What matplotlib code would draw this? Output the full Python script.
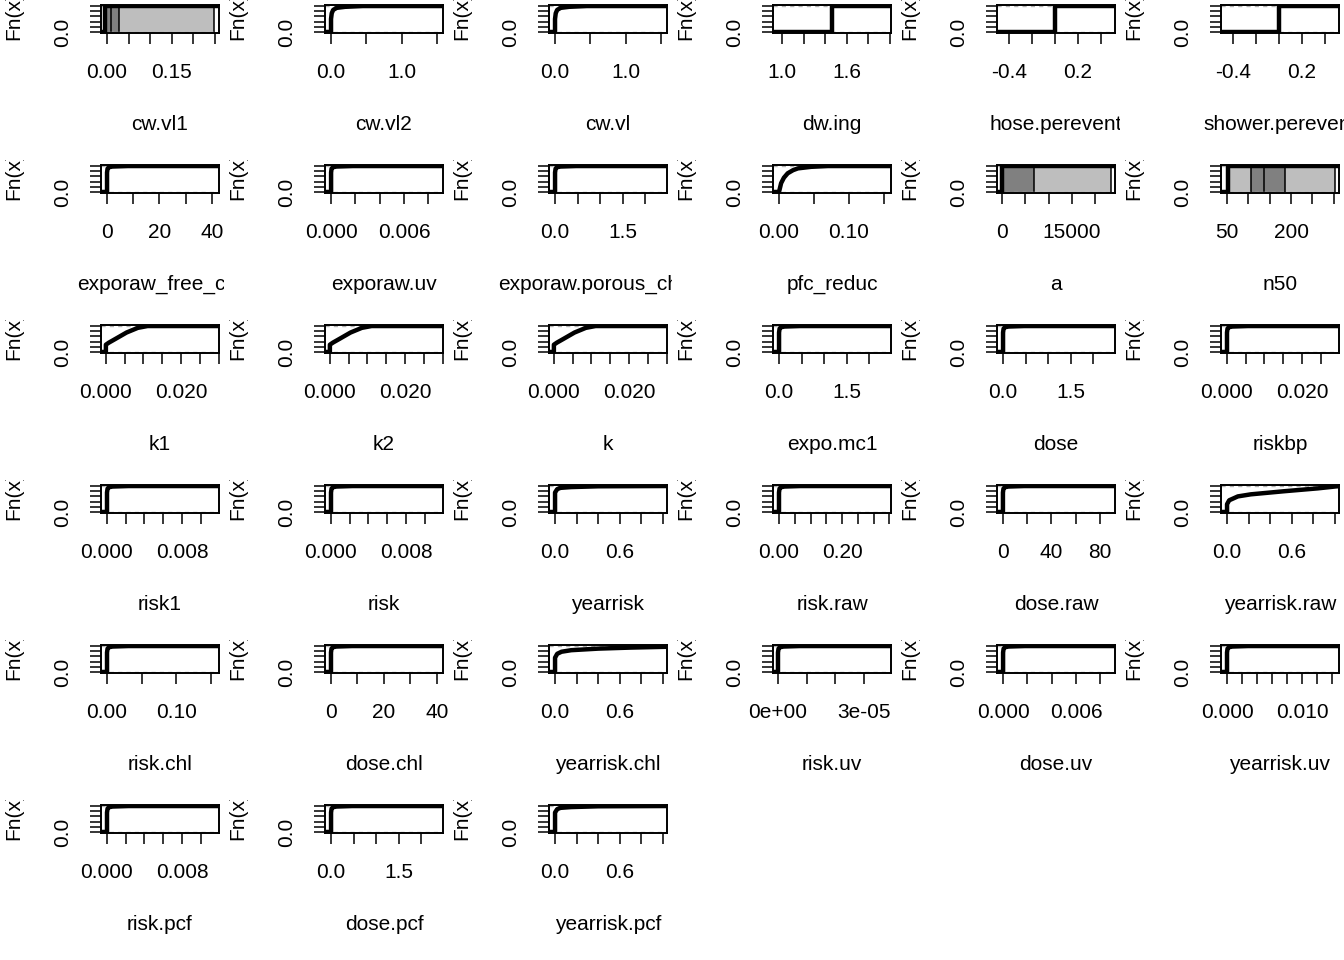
import matplotlib
matplotlib.use("Agg")
import matplotlib.pyplot as plt
from matplotlib.transforms import Bbox, TransformedBbox, blended_transform_factory

plt.rcParams['font.family'] = ['Liberation Sans', 'DejaVu Sans']

# node names, in plotting order (6 per row)
panel_names = ["cw.vl1", "cw.vl2", "cw.vl", "dw.ing", "hose.perevent", "shower.perevent",
               "exporaw_free_chl", "exporaw.uv", "exporaw.porous_chl.pcf", "pfc_reduc", "a", "n50",
               "k1", "k2", "k", "expo.mc1", "dose", "riskbp",
               "risk1", "risk", "yearrisk", "risk.raw", "dose.raw", "yearrisk.raw",
               "risk.chl", "dose.chl", "yearrisk.chl", "risk.uv", "dose.uv", "yearrisk.uv",
               "risk.pcf", "dose.pcf", "yearrisk.pcf"]

x_limits = [(-0.0139, 0.26), (-0.085, 1.58), (-0.085, 1.58), (0.917, 2.01), (-0.504, 0.52), (-0.504, 0.52),
            (-2.3, 42.7), (-0.0005, 0.0092), (-0.134, 2.48), (-0.0086, 0.16), (-1070, 24200), (36, 312),
            (-0.0013, 0.0301), (-0.0013, 0.0301), (-0.0013, 0.0301), (-0.134, 2.48), (-0.134, 2.48), (-0.0016, 0.0299),
            (-0.00064, 0.01195), (-0.00064, 0.01195), (-0.056, 1.037), (-0.019, 0.355), (-4.9, 92.4), (-0.056, 1.037),
            (-0.0087, 0.162), (-2.26, 42.3), (-0.056, 1.037), (-1.74e-6, 3.94e-5), (-0.0005, 0.0092), (-0.0008, 0.0149),
            (-0.00064, 0.01195), (-0.134, 2.48), (-0.056, 1.037)]

x_ticks = [[0, 0.05, 0.10, 0.15, 0.20, 0.25], [0, 0.5, 1.0, 1.5], [0, 0.5, 1.0, 1.5],
           [1.0, 1.2, 1.4, 1.6, 1.8, 2.0], [-0.4, -0.2, 0, 0.2, 0.4], [-0.4, -0.2, 0, 0.2, 0.4],
           [0, 10, 20, 30, 40], [0, 0.002, 0.004, 0.006, 0.008], [0, 0.5, 1.0, 1.5, 2.0],
           [0, 0.05, 0.10, 0.15], [0, 5000, 10000, 15000, 20000], [50, 100, 150, 200, 250, 300],
           [0, 0.005, 0.010, 0.015, 0.020, 0.025, 0.030], [0, 0.005, 0.010, 0.015, 0.020, 0.025, 0.030],
           [0, 0.005, 0.010, 0.015, 0.020, 0.025, 0.030], [0, 0.5, 1.0, 1.5, 2.0], [0, 0.5, 1.0, 1.5, 2.0],
           [0, 0.005, 0.010, 0.015, 0.020, 0.025],
           [0, 0.002, 0.004, 0.006, 0.008, 0.010], [0, 0.002, 0.004, 0.006, 0.008, 0.010],
           [0, 0.2, 0.4, 0.6, 0.8, 1.0], [0, 0.05, 0.10, 0.15, 0.20, 0.25, 0.30, 0.35],
           [0, 20, 40, 60, 80], [0, 0.2, 0.4, 0.6, 0.8, 1.0],
           [0, 0.05, 0.10, 0.15], [0, 10, 20, 30, 40], [0, 0.2, 0.4, 0.6, 0.8, 1.0],
           [0, 1e-5, 2e-5, 3e-5], [0, 0.002, 0.004, 0.006, 0.008],
           [0, 0.002, 0.004, 0.006, 0.008, 0.010, 0.012, 0.014],
           [0, 0.002, 0.004, 0.006, 0.008, 0.010], [0, 0.5, 1.0, 1.5, 2.0], [0, 0.2, 0.4, 0.6, 0.8, 1.0]]

# labels that survive R's overlap check, '' where R dropped them
x_tick_labels = [["0.00", "", "", "0.15", "", ""], ["0.0", "", "1.0", ""], ["0.0", "", "1.0", ""],
                 ["1.0", "", "", "1.6", "", ""], ["-0.4", "", "", "0.2", ""], ["-0.4", "", "", "0.2", ""],
                 ["0", "", "20", "", "40"], ["0.000", "", "", "0.006", ""], ["0.0", "", "", "1.5", ""],
                 ["0.00", "", "0.10", ""], ["0", "", "", "15000", ""], ["50", "", "", "200", "", ""],
                 ["0.000", "", "", "", "0.020", "", ""], ["0.000", "", "", "", "0.020", "", ""],
                 ["0.000", "", "", "", "0.020", "", ""], ["0.0", "", "", "1.5", ""], ["0.0", "", "", "1.5", ""],
                 ["0.000", "", "", "", "0.020", ""],
                 ["0.000", "", "", "", "0.008", ""], ["0.000", "", "", "", "0.008", ""],
                 ["0.0", "", "", "0.6", "", ""], ["0.00", "", "", "", "0.20", "", "", ""],
                 ["0", "", "40", "", "80"], ["0.0", "", "", "0.6", "", ""],
                 ["0.00", "", "0.10", ""], ["0", "", "20", "", "40"], ["0.0", "", "", "0.6", "", ""],
                 ["0e+00", "", "", "3e-05"], ["0.000", "", "", "0.006", ""],
                 ["0.000", "", "", "", "", "0.010", "", ""],
                 ["0.000", "", "", "", "0.008", ""], ["0.0", "", "", "1.5", ""], ["0.0", "", "", "0.6", "", ""]]

# median ecdf knots (x, Fn)
steep_F = [0, 0.75, 0.9, 0.95, 0.98, 1.0]
curve_x = [[-0.004, -0.004], [0, 0, 0.01, 0.03, 0.08, 0.2, 0.45], [0, 0, 0.01, 0.03, 0.08, 0.2, 0.45],
           [1.46, 1.46], [0, 0], [0, 0],
           [0, 0, 0.2, 0.6, 2, 8], [0, 0, 4e-5, 1.3e-4, 4.4e-4, 1.8e-3], [0, 0, 0.012, 0.035, 0.12, 0.47],
           [0, 0.003, 0.007, 0.0124, 0.02, 0.027, 0.046, 0.07], [0, 0], [52, 52],
           [0, 0, 0.0008, 0.0025, 0.0055, 0.0085, 0.0111], [0, 0, 0.0008, 0.0025, 0.0055, 0.0085, 0.0111],
           [0, 0, 0.0008, 0.0025, 0.0055, 0.0085, 0.0111], [0, 0, 0.012, 0.035, 0.12, 0.47],
           [0, 0, 0.012, 0.035, 0.12, 0.47], [0, 0, 1.4e-4, 4e-4, 1.4e-3, 5.6e-3],
           [0, 0, 6e-5, 1.7e-4, 5.8e-4, 2.3e-3], [0, 0, 6e-5, 1.7e-4, 5.8e-4, 2.3e-3],
           [0, 0, 0.02, 0.05, 0.15, 0.4, 1.0], [0, 0, 0.0017, 0.005, 0.017, 0.068],
           [0, 0, 0.44, 1.3, 4.4, 17.6], [0, 0, 0.02, 0.1, 0.22, 0.53, 0.84, 1.02],
           [0, 0, 7.8e-4, 2.3e-3, 7.8e-3, 0.031], [0, 0, 0.2, 0.6, 2, 8],
           [0, 0, 0.02, 0.06, 0.15, 0.4, 0.7, 1.02], [0, 0, 1.9e-7, 5.7e-7, 1.9e-6, 7.6e-6],
           [0, 0, 4.4e-5, 1.3e-4, 4.4e-4, 1.8e-3], [0, 0, 7e-5, 2.1e-4, 7e-4, 2.8e-3],
           [0, 0, 6e-5, 1.7e-4, 5.8e-4, 2.3e-3], [0, 0, 0.012, 0.035, 0.12, 0.47],
           [0, 0, 0.02, 0.05, 0.15, 0.4, 1.0]]
curve_F = [[0, 1], [0, 0.5, 0.72, 0.85, 0.93, 0.97, 1.0], [0, 0.5, 0.72, 0.85, 0.93, 0.97, 1.0],
           [0, 1], [0, 1], [0, 1],
           steep_F, steep_F, steep_F,
           [0, 0.34, 0.55, 0.72, 0.84, 0.91, 0.97, 1.0], [0, 1], [0, 1],
           [0, 0.28, 0.36, 0.5, 0.75, 0.93, 1.0], [0, 0.28, 0.36, 0.5, 0.75, 0.93, 1.0],
           [0, 0.28, 0.36, 0.5, 0.75, 0.93, 1.0],
           steep_F, steep_F, steep_F,
           steep_F, steep_F, [0, 0.75, 0.88, 0.93, 0.96, 0.99, 1.0], steep_F, steep_F,
           [0, 0.3, 0.45, 0.6, 0.68, 0.8, 0.91, 0.99],
           steep_F, steep_F, [0, 0.55, 0.7, 0.78, 0.84, 0.9, 0.94, 0.97], steep_F, steep_F, steep_F,
           steep_F, steep_F, [0, 0.75, 0.88, 0.93, 0.96, 0.99, 1.0]]

# discrete nodes: uncertainty envelope bands between steps (1 = outer, 2 = inner)
band_edges = {"cw.vl1": [-0.004, 0.009, 0.027, 0.249],
              "a": [0, 6900, 23400],
              "n50": [52, 106, 137, 186, 303]}
band_levels = {"cw.vl1": [2, 2, 1],
               "a": [2, 1],
               "n50": [1, 2, 2, 1]}
level_colors = {1: "#BEBEBE", 2: "#808080"}

W, H = 1344, 960
FS = 15
fig = plt.figure(figsize=(W / 100, H / 100), dpi=100)


def clip_to(txt, bb):
    txt.set_clip_box(bb)
    txt.set_clip_on(True)


for i, name in enumerate(panel_names):
    r, c = divmod(i, 6)
    left = 101 + 224 * c
    top = 5 + 160 * r
    ax = fig.add_axes([left / W, 1 - (top + 28) / H, 118 / W, 28 / H])
    lo, hi = x_limits[i]
    ax.set_xlim(lo, hi)
    ax.set_ylim(-0.04, 1.04)

    if name in band_edges:
        edges = band_edges[name]
        for e0, e1, lev in zip(edges[:-1], edges[1:], band_levels[name]):
            ax.fill_between([e0, e1], 0, 1, color=level_colors[lev], lw=0)
        ax.vlines(edges, 0, 1, color="black", lw=1.1)

    ax.plot([lo, hi], [0, 0], color="#B3B3B3", lw=1, ls=(0, (3, 3)))
    ax.plot([lo, hi], [1, 1], color="#B3B3B3", lw=1, ls=(0, (3, 3)))

    xs = [lo] + curve_x[i] + [hi]
    fs = [0] + curve_F[i] + [curve_F[i][-1]]
    ax.plot(xs, fs, color="black", lw=3.2, solid_joinstyle="round")

    ax.set_xticks(x_ticks[i])
    ax.set_xticklabels([])
    ax.set_yticks([0, 0.2, 0.4, 0.6, 0.8, 1.0])
    ax.set_yticklabels([])
    ax.tick_params(direction="out", length=7.8, width=1.1, color="black")
    for sp in ax.spines.values():
        sp.set_linewidth(1.4)

    cell = TransformedBbox(Bbox.from_extents(224 * c / W, 1 - 160 * (r + 1) / H,
                                             224 * (c + 1) / W, 1 - 160 * r / H), fig.transFigure)
    tx = blended_transform_factory(ax.transData, fig.transFigure)
    ty = blended_transform_factory(fig.transFigure, ax.transData)

    for t, lab in zip(x_ticks[i], x_tick_labels[i]):
        if lab:
            clip_to(fig.text(t, 1 - (73 + 160 * r) / H, lab, transform=tx,
                             ha="center", va="center", fontsize=FS), cell)
    clip_to(fig.text((63 + 224 * c) / W, 0, "0.0", transform=ty, rotation=90,
                     ha="center", va="center", fontsize=FS), cell)
    clip_to(fig.text((14 + 224 * c) / W, 1 - (top + 11) / H, "Fn(x)", rotation=90,
                     ha="center", va="center", fontsize=FS), cell)
    clip_to(fig.text((left + 59) / W, 1 - (124 + 160 * r) / H, name,
                     ha="center", va="center", fontsize=FS), cell)

fig.savefig("out.png", dpi=100, facecolor="white")
